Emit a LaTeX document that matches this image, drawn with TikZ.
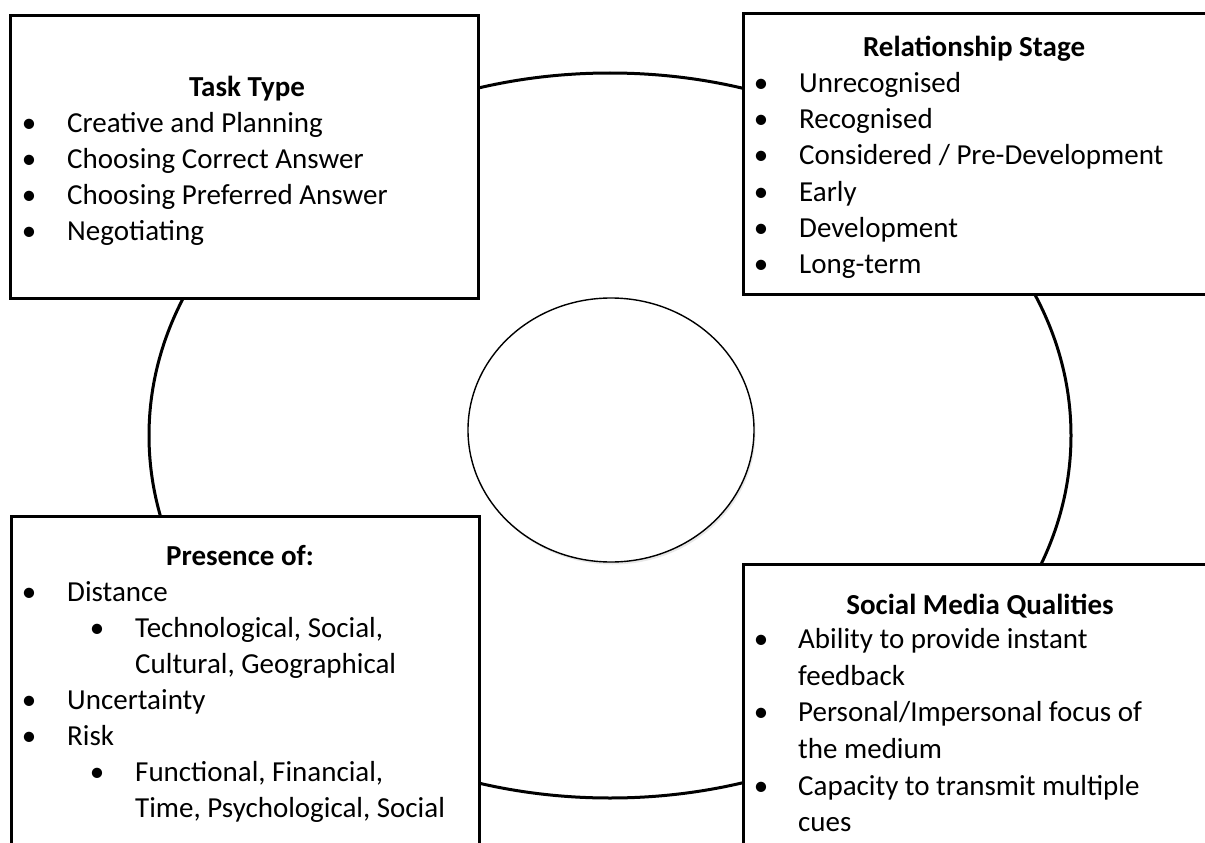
\documentclass[tikz,border=0pt]{standalone}
\usepackage{fontspec}
\setmainfont{Carlito}
\usepackage{tikz}
\usetikzlibrary{shapes.geometric,shadows}

\begin{document}
\begin{tikzpicture}[
        x=1pt, y=-1pt,
        panel/.style={rectangle, draw, line width=3pt, fill=white, anchor=north west, inner sep=0pt},
        hub/.style={ellipse, draw, line width=1.4pt, fill=white, inner sep=0pt, minimum width=286pt, minimum height=264pt,
            drop shadow={opacity=0.18, shadow xshift=1.5pt, shadow yshift=-2.5pt}},
        head/.style={anchor=base, inner sep=0pt, font=\fontsize{29}{35}\selectfont\bfseries},
        entry/.style={anchor=base west, inner sep=0pt, font=\fontsize{29}{35}\selectfont},
        dot/.style={anchor=base, inner sep=0pt, font=\fontsize{29}{35}\selectfont}
    ]
        \useasboundingbox (0,0) rectangle (1205,843);
        \clip (0,0) rectangle (1205,843);

        % Outer cycle
        \draw[line width=3pt] (610,435.5) ellipse [x radius=461, y radius=362.5];

        % Boxes
        \node[panel, minimum width=468pt, minimum height=283pt] (task) at (9,14) {};
        \node[panel, minimum width=468pt, minimum height=281pt] (stage) at (742,12) {};
        \node[panel, minimum width=468pt, minimum height=360pt] (presence) at (10,515) {};
        \node[panel, minimum width=480pt, minimum height=320pt] (media) at (742,563) {};

        % Centre
        \node[hub] (core) at (611,430) {};

        % Task type
        \node[head] (task-h) at (247,96) {Task Type};
        \foreach \t [count=\i] in {Creative and Planning, Choosing Correct Answer, Choosing Preferred Answer, Negotiating} {
            \node[dot] (task-b\i) at (29,96+36*\i) {\textbullet};
            \node[entry] (task-\i) at (67,96+36*\i) {\t};
        }

        % Relationship stage
        \node[head] (stage-h) at (974,57) {Relationship Stage};
        \foreach \t [count=\i] in {Unrecognised, Recognised, Considered / Pre-Development, Early, Development, Long-term} {
            \node[dot] (stage-b\i) at (761,56+36.3*\i) {\textbullet};
            \node[entry] (stage-\i) at (799,56+36.3*\i) {\t};
        }

        % Presence of
        \node[head] (presence-h) at (240,565) {Presence of:};
        \foreach \lv/\b/\t [count=\i] in {0/1/Distance, 1/1/{Technological, Social,}, 1/0/{Cultural, Geographical},
                0/1/Uncertainty, 0/1/Risk, 1/1/{Functional, Financial,}, 1/0/{Time, Psychological, Social}} {
            \ifnum\b=1 \node[dot] (presence-b\i) at (29+68*\lv,565+36*\i) {\textbullet}; \fi
            \node[entry] (presence-\i) at (67+68*\lv,565+36*\i) {\t};
        }

        % Social media qualities
        \node[head] (media-h) at (980,614) {Social Media Qualities};
        \foreach \b/\t [count=\i] in {1/Ability to provide instant, 0/feedback, 1/{Personal/Impersonal focus of},
                0/the medium, 1/Capacity to transmit multiple, 0/cues} {
            \ifnum\b=1 \node[dot] (media-b\i) at (761,612+36.6*\i) {\textbullet}; \fi
            \node[entry] (media-\i) at (798,612+36.6*\i) {\t};
        }
    \end{tikzpicture}
\end{document}
